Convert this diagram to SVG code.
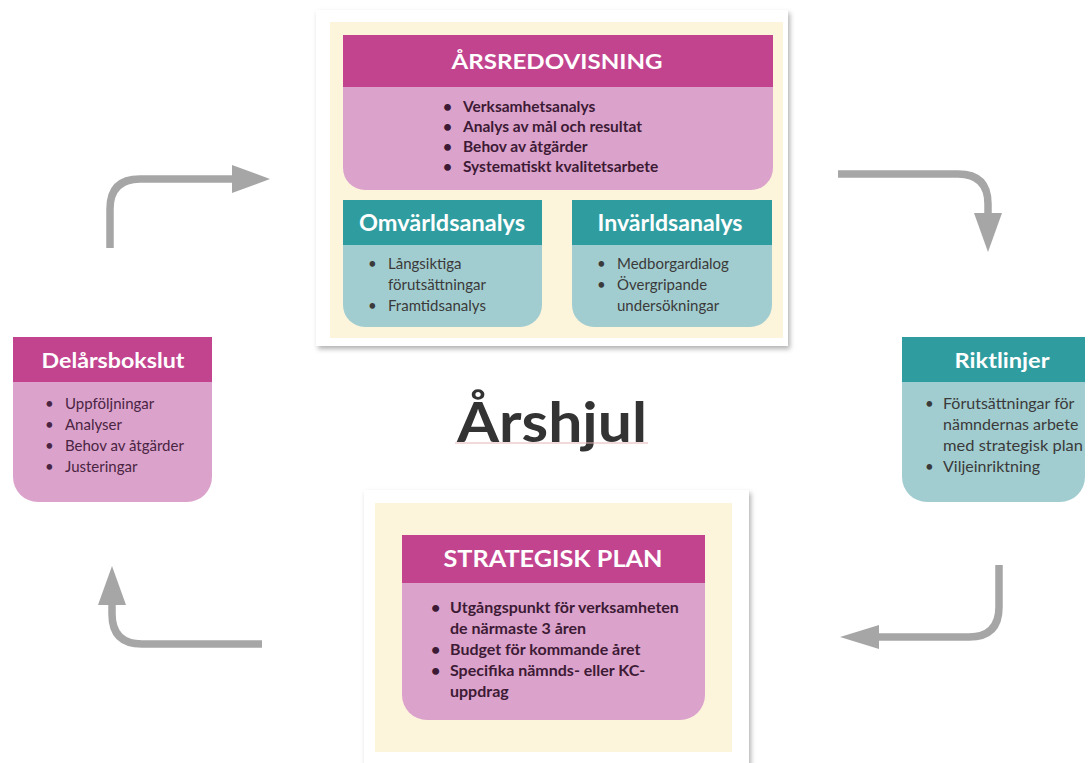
<svg xmlns="http://www.w3.org/2000/svg" width="1089" height="763" viewBox="0 0 1089 763">
<style>
.hd{font-family:Lato,"Open Sans","Liberation Sans",sans-serif;font-weight:700;fill:#ffffff;text-anchor:middle}
.bp{font-family:Lato,"Open Sans","Liberation Sans",sans-serif;font-weight:700;fill:#3d1a35;font-size:15.5px}
.bt{font-family:Lato,"Open Sans","Liberation Sans",sans-serif;font-weight:400;fill:#3a3a3a;font-size:15px}
.bq{font-family:Lato,"Open Sans","Liberation Sans",sans-serif;font-weight:400;fill:#4a2443;font-size:15px}
.mh{fill:#c2448f}.mb{fill:#dba3cb}
.th{fill:#2f9ca0}.tb{fill:#a2cdd0}
.cream{fill:#fdf4dc}
.card{fill:#ffffff;filter:url(#sh)}
.arr{fill:none;stroke:#a6a6a6;stroke-width:7.5}
.ah{fill:#a6a6a6}
</style>
<defs>
<filter id="sh" x="-5%" y="-5%" width="112%" height="115%">
<feDropShadow dx="2" dy="3" stdDeviation="2.5" flood-color="#000" flood-opacity="0.3"/>
</filter>
</defs>
<rect width="1089" height="763" fill="#ffffff"/>

<g id="connectors">
<path class="arr" d="M110 248 V209 Q110 179 140 179 H236"/>
<polygon class="ah" points="232,165 270,179 232,193"/>
<path class="arr" d="M838 174 H958 Q988 174 988 204 V216"/>
<polygon class="ah" points="974,213 1002,213 988,252"/>
<path class="arr" d="M999 565 V607 Q999 637 969 637 H875"/>
<polygon class="ah" points="879,625 879,649 840,637"/>
<path class="arr" d="M262 644 H142 Q112 644 112 614 V601"/>
<polygon class="ah" points="98,605 126,605 112,566"/>
</g>

<g id="top-panel">
<rect class="card" x="316" y="10" width="472" height="336"/>
<rect class="cream" x="330" y="22" width="453" height="316"/>
</g>

<g id="arsredovisning">
<path class="mb" d="M343 35 H773 V168 A22 22 0 0 1 751 190 H365 A22 22 0 0 1 343 168 Z"/>
<rect class="mh" x="343" y="35" width="430" height="52"/>
<text class="hd" x="557" y="69" font-size="21" textLength="211" lengthAdjust="spacingAndGlyphs">ÅRSREDOVISNING</text>
<g class="bp">
<text x="443" y="112">•</text><text x="463" y="112">Verksamhetsanalys</text>
<text x="443" y="132">•</text><text x="463" y="132">Analys av mål och resultat</text>
<text x="443" y="152">•</text><text x="463" y="152">Behov av åtgärder</text>
<text x="443" y="172">•</text><text x="463" y="172">Systematiskt kvalitetsarbete</text>
</g>
</g>

<g id="omvarldsanalys">
<path class="tb" d="M343 200 H542 V305 A22 22 0 0 1 520 327 H365 A22 22 0 0 1 343 305 Z"/>
<rect class="th" x="343" y="200" width="199" height="45"/>
<text class="hd" x="442" y="231" font-size="22" textLength="166" lengthAdjust="spacingAndGlyphs">Omvärldsanalys</text>
<g class="bt">
<text x="368" y="269">•</text><text x="388" y="269">Långsiktiga</text>
<text x="388" y="290">förutsättningar</text>
<text x="368" y="311">•</text><text x="388" y="311">Framtidsanalys</text>
</g>
</g>

<g id="invarldsanalys">
<path class="tb" d="M572 200 H772 V305 A22 22 0 0 1 750 327 H594 A22 22 0 0 1 572 305 Z"/>
<rect class="th" x="572" y="200" width="200" height="45"/>
<text class="hd" x="670" y="231" font-size="22" textLength="145" lengthAdjust="spacingAndGlyphs">Invärldsanalys</text>
<g class="bt">
<text x="597" y="269">•</text><text x="617" y="269">Medborgardialog</text>
<text x="597" y="290">•</text><text x="617" y="290">Övergripande</text>
<text x="617" y="311">undersökningar</text>
</g>
</g>

<g id="delarsbokslut">
<path class="mb" d="M13 337 H212 V477 A25 25 0 0 1 187 502 H38 A25 25 0 0 1 13 477 Z"/>
<rect class="mh" x="13" y="337" width="199" height="45"/>
<text class="hd" x="113" y="368" font-size="20.5" textLength="143" lengthAdjust="spacingAndGlyphs">Delårsbokslut</text>
<g class="bq">
<text x="45" y="409">•</text><text x="65" y="409">Uppföljningar</text>
<text x="45" y="430">•</text><text x="65" y="430">Analyser</text>
<text x="45" y="451">•</text><text x="65" y="451">Behov av åtgärder</text>
<text x="45" y="472">•</text><text x="65" y="472">Justeringar</text>
</g>
</g>

<g id="riktlinjer">
<path class="tb" d="M902 337 H1085 V477 A25 25 0 0 1 1060 502 H927 A25 25 0 0 1 902 477 Z"/>
<rect class="th" x="902" y="337" width="183" height="45"/>
<text class="hd" x="1002" y="368" font-size="20.5" textLength="95" lengthAdjust="spacingAndGlyphs">Riktlinjer</text>
<g class="bt">
<text x="925" y="409">•</text><text x="943" y="409" font-size="16">Förutsättningar för</text>
<text x="943" y="430" font-size="16">nämndernas arbete</text>
<text x="943" y="451" font-size="16" textLength="140" lengthAdjust="spacingAndGlyphs">med strategisk plan</text>
<text x="925" y="472">•</text><text x="943" y="472" font-size="16">Viljeinriktning</text>
</g>
</g>

<g id="title">
<text x="552" y="442" font-family="Lato,'Open Sans','Liberation Sans',sans-serif" font-weight="700" font-size="56" fill="#333333" text-anchor="middle" textLength="190" lengthAdjust="spacingAndGlyphs">Årshjul</text>
<line x1="455" y1="443" x2="648" y2="443" stroke="#e4b4b4" stroke-width="1"/>
</g>

<g id="bottom-panel">
<rect class="card" x="364" y="490" width="385" height="280"/>
<rect class="cream" x="375" y="503" width="357" height="249"/>
</g>

<g id="strategisk-plan">
<path class="mb" d="M402 535 H705 V695 A25 25 0 0 1 680 720 H427 A25 25 0 0 1 402 695 Z"/>
<rect class="mh" x="402" y="535" width="303" height="48"/>
<text class="hd" x="553" y="567" font-size="22" textLength="219" lengthAdjust="spacingAndGlyphs">STRATEGISK PLAN</text>
<g class="bp" style="font-size:16px">
<text x="431" y="613">•</text><text x="450" y="613">Utgångspunkt för verksamheten</text>
<text x="450" y="634">de närmaste 3 åren</text>
<text x="431" y="655">•</text><text x="450" y="655">Budget för kommande året</text>
<text x="431" y="676">•</text><text x="450" y="676">Specifika nämnds- eller KC-</text>
<text x="450" y="697">uppdrag</text>
</g>
</g>
</svg>
